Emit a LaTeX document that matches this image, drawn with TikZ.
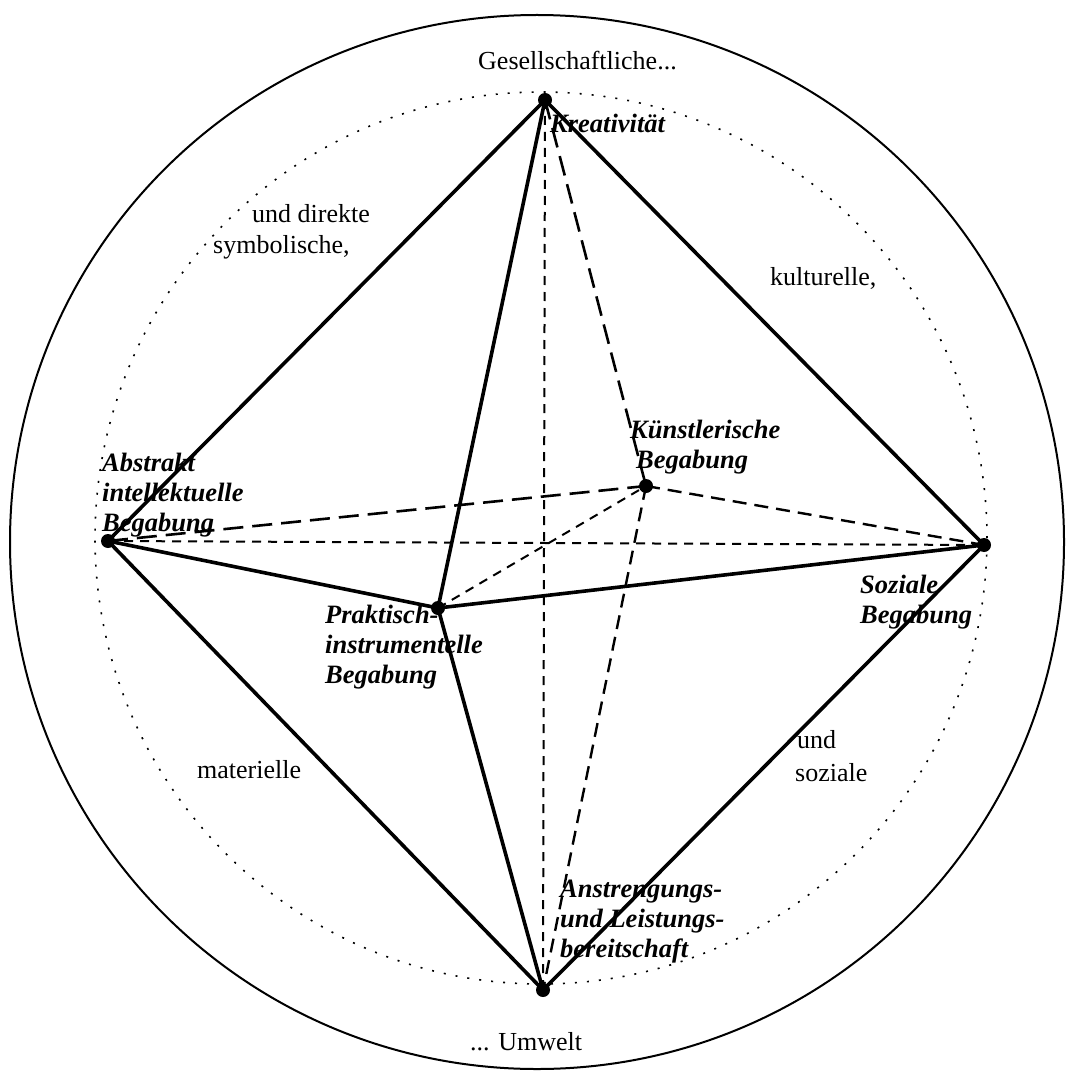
\documentclass[tikz,border=0pt]{standalone}
\usepackage{fontspec}
\setmainfont{Liberation Serif}
\begin{document}
\begin{tikzpicture}[x=1pt,y=-1pt,
  solidedge/.style={line width=3.6pt,line cap=round,line join=round},
  longdash/.style={line width=2.6pt,dash pattern=on 20pt off 9pt},
  middash/.style={line width=2.4pt,dash pattern=on 14pt off 8pt},
  shortdash/.style={line width=2pt,dash pattern=on 9pt off 7pt},
  vertexdot/.style={circle,fill=black,inner sep=0pt,minimum size=14pt},
  lbl/.style={inner sep=0pt,anchor=base west,font=\fontsize{26.5}{30}\selectfont\bfseries\itshape,align=left},
  txt/.style={inner sep=0pt,anchor=base west,font=\fontsize{26}{30}\selectfont,align=left}]
\useasboundingbox (0,0) rectangle (1066,1075);
% circles
\draw[line width=2pt] (537,542) circle[radius=527pt];
\draw[line width=1.6pt,dash pattern=on 2pt off 10pt] (541,538) circle[radius=446pt];
% vertices
\coordinate (T) at (545,100);
\coordinate (A) at (108,541);
\coordinate (S) at (984,545);
\coordinate (B) at (543,990);
\coordinate (P) at (438,608);
\coordinate (K) at (646,486);
% dashed edges
\draw[shortdash] (T) -- (B);
\draw[shortdash] (A) -- (S);
\draw[shortdash] (P) -- (K);
\draw[longdash] (T) -- (K);
\draw[longdash] (A) -- (K);
\draw[middash] (K) -- (S);
\draw[middash] (K) -- (B);
% solid edges
\draw[solidedge] (T) -- (A) -- (B) -- (S) -- cycle;
\draw[solidedge] (A) -- (P) -- (S);
\draw[solidedge] (T) -- (P) -- (B);
% vertex dots
\foreach \v in {T,A,S,B,P,K} \node[vertexdot] at (\v) {};
% labels of the vertices (anchored at the baseline of the last line)
\node[lbl] (lK) at (550,133) {Kreativität};
\node[lbl] (lA) at (102,531) {Abstrakt\\intellektuelle\\Begabung};
\node[lbl] (lKu) at (630,468) {Künstlerische\\\hspace*{6pt}Begabung};
\node[lbl] (lP) at (325,683) {Praktisch-\\instrumentelle\\Begabung};
\node[lbl] (lS) at (860,623) {Soziale\\Begabung};
\node[lbl] (lB) at (560,957) {Anstrengungs-\\und Leistungs-\\bereitschaft};
% surrounding text
\node[txt] (g) at (478,70) {Gesellschaftliche...};
\node[txt] (d1) at (252,223) {und direkte};
\node[txt] (d2) at (213,253) {symbolische,};
\node[txt] (ku) at (770,285) {kulturelle,};
\node[txt] (ma) at (197,778) {materielle};
\node[txt] (so1) at (797,748) {und};
\node[txt] (so2) at (795,781) {soziale};
\node[txt] (um) at (470,1050) {... Umwelt};
\end{tikzpicture}
\end{document}
